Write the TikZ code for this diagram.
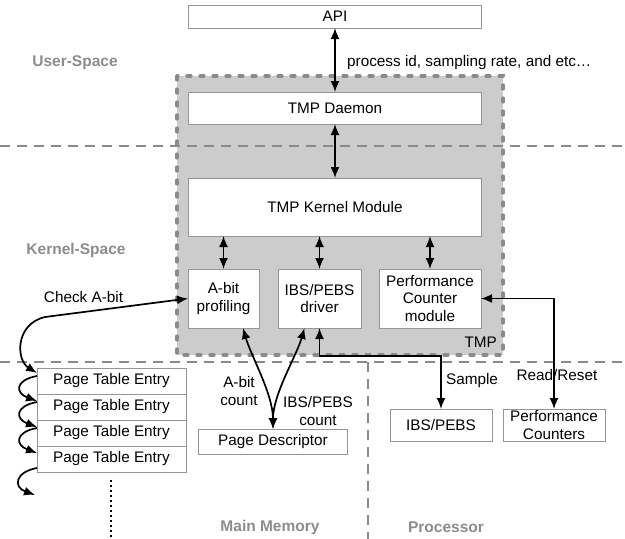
\documentclass[tikz,border=0pt]{standalone}
\usepackage{fontspec}
\setmainfont{Liberation Sans}
\usetikzlibrary{arrows.meta, positioning}
\definecolor{tmpgray}{RGB}{204,204,204}
\definecolor{rulegray}{RGB}{138,138,138}
\definecolor{boxgray}{RGB}{150,150,150}
\definecolor{labelgray}{RGB}{140,140,140}

\tikzset{
  box/.style={draw=boxgray, line width=0.8pt, fill=white, inner sep=0pt, outer sep=0pt,
    align=center, font=\fontsize{15.3}{17.5}\selectfont},
  txt/.style={inner sep=0pt, align=center, font=\fontsize{15.3}{17.5}\selectfont},
  space/.style={text=labelgray, inner sep=0pt, font=\fontsize{15.5}{18}\selectfont\bfseries},
  divider/.style={draw=rulegray, line width=1.6pt, dash pattern=on 10pt off 7pt},
  link/.style={{Latex[length=11pt,width=9pt]}-{Latex[length=11pt,width=9pt]}, line width=1.7pt},
  onelink/.style={-{Latex[length=11pt,width=9pt]}, line width=1.7pt},
}

\begin{document}
\begin{tikzpicture}[x=1pt, y=-1pt]
    \useasboundingbox (0,0) rectangle (625,539);

    % TMP region
    \draw[fill=tmpgray, draw=rulegray, line width=3.2pt, line cap=round, dash pattern=on 4pt off 9pt]
        (177,76) rectangle (503,355);
    \node[txt, anchor=east] (tmp) at (497,342) {TMP};

    % layer separators
    \draw[divider] (0,146) -- (625,146);
    \draw[divider] (0,362) -- (625,362);
    \draw[divider] (368,362) -- (368,539);
    \draw[line width=1.5pt, dash pattern=on 2pt off 3pt] (111,480) -- (111,539);

    % layer names
    \node[space] (user) at (75,63) {User-Space};
    \node[space] (kernel) at (76,250) {Kernel-Space};
    \node[space] (mem) at (270,527) {Main Memory};
    \node[space] (cpu) at (446,527) {Processor};

    % software stack
    \node[box, minimum width=293, minimum height=23] (api) at (335,16.5) {API};
    \node[box, minimum width=293, minimum height=32] (daemon) at (335,108) {TMP Daemon};
    \node[box, minimum width=293, minimum height=58] (kmod) at (335,207) {TMP Kernel Module};
    \node[box, minimum width=71, minimum height=59] (abit) at (223.5,298.5) {A-bit\\profiling};
    \node[box, minimum width=83, minimum height=59] (ibsdrv) at (319.5,298.5) {IBS/PEBS\\driver};
    \node[box, minimum width=102, minimum height=59] (pcmod) at (430,298.5) {Performance\\Counter\\module};

    % memory side
    \node[box, minimum width=149, minimum height=26] (pte1) at (111.5,381) {Page Table Entry};
    \node[box, minimum width=149, minimum height=26, below=0pt of pte1] (pte2) {Page Table Entry};
    \node[box, minimum width=149, minimum height=26, below=0pt of pte2] (pte3) {Page Table Entry};
    \node[box, minimum width=149, minimum height=26, below=0pt of pte3] (pte4) {Page Table Entry};
    \coordinate (ptend) at (35,495);
    \node[box, minimum width=149, minimum height=25] (pdesc) at (273,441.5) {Page Descriptor};

    % processor side
    \node[box, minimum width=102, minimum height=32] (ibs) at (441,425) {IBS/PEBS};
    \node[box, minimum width=102, minimum height=32] (pcnt) at (554,425) {Performance\\Counters};

    % connectors
    \draw[link] (api) -- (daemon);
    \node[txt, anchor=west] (params) at (347,63) {process id, sampling rate, and etc…};
    \draw[link] (daemon) -- (kmod);
    \foreach \b in {abit, ibsdrv, pcmod} {
        \draw[link] (\b.north |- kmod.south) -- (\b.north);
    }

    \draw[link] (abit.west) -- (45,317) .. controls (15,324) and (16,360) .. ([yshift=-5pt]pte1.north west);
    \node[txt] (check) at (83.5,297) {Check A-bit};
    \foreach \i/\j in {1/2, 2/3, 3/4} {
        \draw[onelink] ([yshift=-8pt]pte\i.north west) .. controls +(-22,4) and +(-22,-8) .. ([yshift=-7pt]pte\j.north west);
    }
    \draw[onelink] ([yshift=-22pt]pte4.north west) .. controls +(-22,4) and +(-22,-8) .. (ptend);

    \draw[link] (pdesc.north) .. controls +(0,-35) and +(8,28) .. ([xshift=19.5pt]abit.south);
    \draw[link] (pdesc.north) .. controls +(0,-35) and +(-8,28) .. ([xshift=-15pt]ibsdrv.south);
    \node[txt] (abitcnt) at (239,391) {A-bit\\count};
    \node[txt] (ibscnt) at (318,411) {IBS/PEBS\\count};

    \draw[link] (ibsdrv.south) -- ++(0,28) -| (ibs.north);
    \node[txt] (sample) at (472,381) {Sample};
    \draw[link] (pcmod.east) -| (pcnt.north);
    \node[txt] (rr) at (557,375) {Read/Reset};
\end{tikzpicture}
\end{document}
